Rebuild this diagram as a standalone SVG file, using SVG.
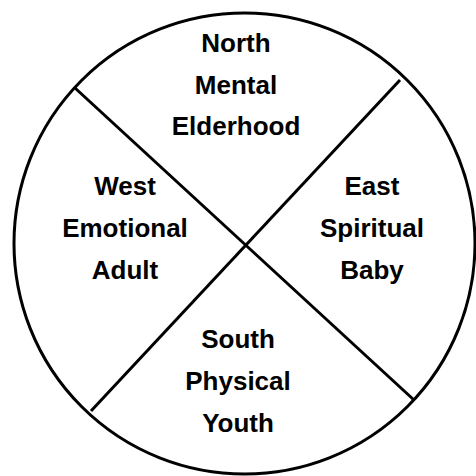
<svg xmlns="http://www.w3.org/2000/svg" width="476" height="476" viewBox="0 0 476 476">
<style>
.lbl{font-family:"Liberation Sans",Arial,sans-serif;font-weight:bold;font-size:26px;fill:#000;text-anchor:middle}
.ln{stroke:#000;stroke-width:3;fill:none}
</style>
<rect width="476" height="476" fill="#fff"/>
<g id="connectors">
<circle class="ln" cx="244.5" cy="243.5" r="230.5"/>
<line class="ln" x1="75" y1="88" x2="414" y2="400"/>
<line class="ln" x1="400" y1="80" x2="91" y2="411"/>
</g>
<g id="north"><text class="lbl" x="236" y="52">North</text><text class="lbl" x="236" y="93.5">Mental</text><text class="lbl" x="236" y="135">Elderhood</text></g>
<g id="west"><text class="lbl" x="125" y="195">West</text><text class="lbl" x="125" y="237">Emotional</text><text class="lbl" x="125" y="279">Adult</text></g>
<g id="east"><text class="lbl" x="372" y="195">East</text><text class="lbl" x="372" y="237">Spiritual</text><text class="lbl" x="372" y="279">Baby</text></g>
<g id="south"><text class="lbl" x="238" y="348">South</text><text class="lbl" x="238" y="390">Physical</text><text class="lbl" x="238" y="432">Youth</text></g>
</svg>
